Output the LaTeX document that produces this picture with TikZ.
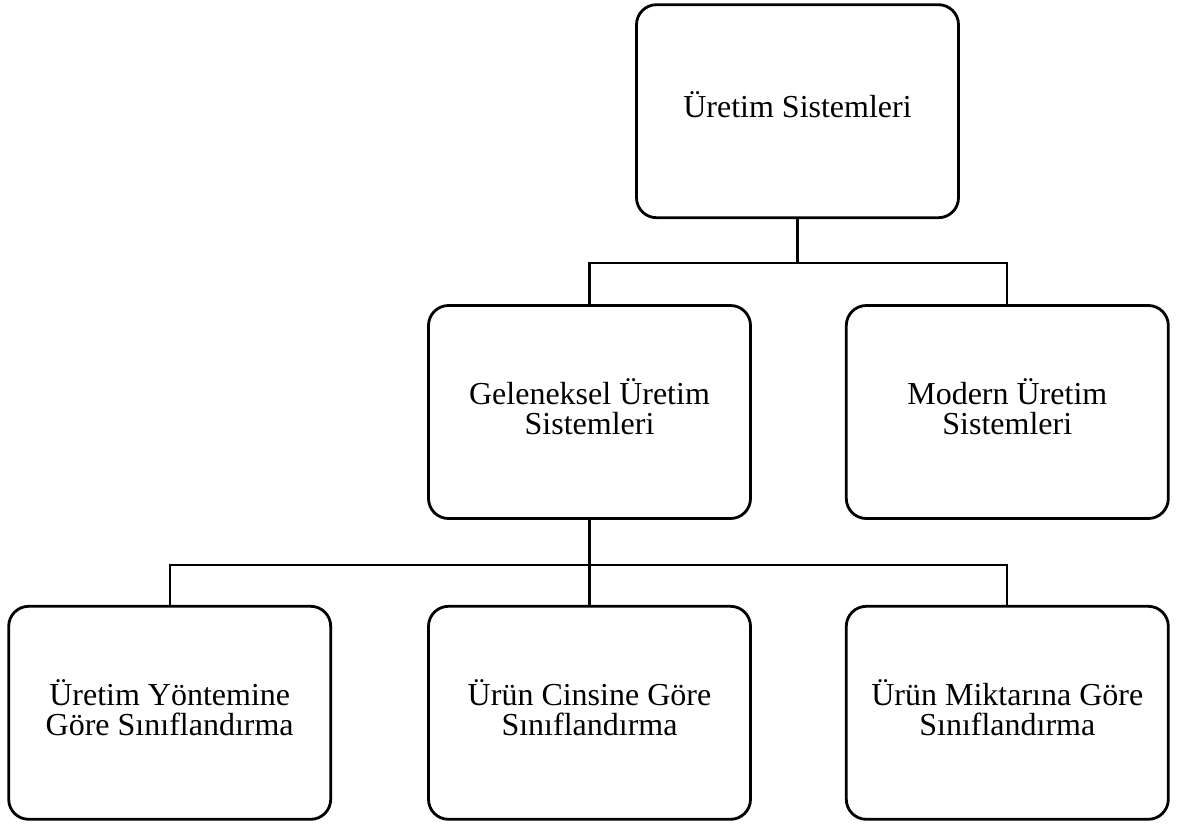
\documentclass[tikz,border=0pt]{standalone}
\usepackage{fontspec}
\setmainfont{Liberation Serif}
\usetikzlibrary{positioning}

\begin{document}
\begin{tikzpicture}[
  x=1pt, y=-1pt,
  node distance=85pt and 93pt,
  box/.style={draw, rounded corners=20pt, line width=2.8pt, minimum width=322pt, minimum height=213pt,
    align=center, font=\fontsize{32}{30}\selectfont, text height=46pt},
  conn/.style={line width=2.2pt}
]
  \useasboundingbox (0,0) rectangle (1179,823);

  \node[box] (gen) at (589.5,412) {Geleneksel Üretim\\Sistemleri};
  \node[box, right=of gen] (mod) {Modern Üretim\\Sistemleri};
  \node[box, above=of gen, xshift=208pt, text height=13pt] (sys) {Üretim Sistemleri};
  \node[box, below=of gen] (cins) {Ürün Cinsine Göre\\Sınıflandırma};
  \node[box, left=95pt of cins] (yon) {Üretim Yöntemine\\Göre Sınıflandırma};
  \node[box, right=of cins] (mik) {Ürün Miktarına Göre\\Sınıflandırma};

  % ust seviye baglantilar
  \draw[conn] (sys.south) -- ++(0,44) -| (gen.north);
  \draw[conn] (sys.south) -- ++(0,44) -| (mod.north);

  % alt seviye baglantilar
  \draw[conn] (gen.south) -- ++(0,45) -| (yon.north);
  \draw[conn] (gen.south) -- (cins.north);
  \draw[conn] (gen.south) -- ++(0,45) -| (mik.north);
\end{tikzpicture}
\end{document}
